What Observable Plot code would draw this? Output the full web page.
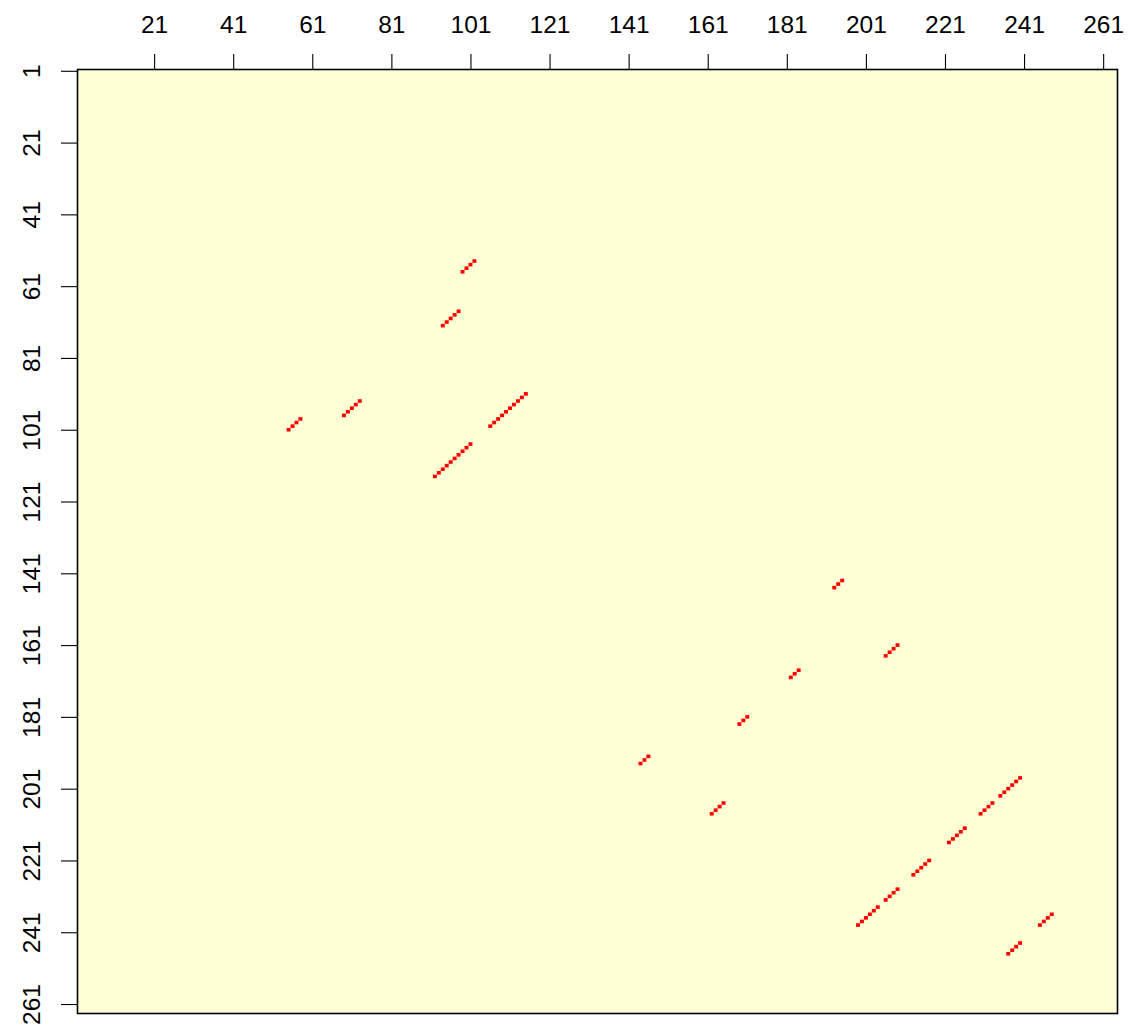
<!DOCTYPE html>
<html>
<head>
<meta charset="utf-8">
<script src="https://cdn.jsdelivr.net/npm/d3@7"></script>
<script src="https://cdn.jsdelivr.net/npm/@observablehq/plot@0.6"></script>
<style>
  html, body { margin: 0; padding: 0; background: #ffffff; }
  #chart svg { display: block; }
</style>
</head>
<body>
<div id="chart"></div>
<script>
// Paired positions (column index, row index)
const cols = [
  99, 100, 101, 102,
  94, 95, 96, 97, 98,
  55, 56, 57, 58,
  69, 70, 71, 72, 73,
  106, 107, 108, 109, 110, 111, 112, 113, 114, 115,
  92, 93, 94, 95, 96, 97, 98, 99, 100, 101,
  193, 194, 195,
  206, 207, 208, 209,
  182, 183, 184,
  169, 170, 171,
  144, 145, 146,
  162, 163, 164, 165,
  230, 231, 232, 233, 235, 236, 237, 238, 239, 240,
  222, 223, 224, 225, 226,
  213, 214, 215, 216, 217,
  199, 200, 201, 202, 203, 204, 206, 207, 208, 209,
  245, 246, 247, 248,
  237, 238, 239, 240
];
const rows = [
  57, 56, 55, 54,
  72, 71, 70, 69, 68,
  101, 100, 99, 98,
  97, 96, 95, 94, 93,
  100, 99, 98, 97, 96, 95, 94, 93, 92, 91,
  114, 113, 112, 111, 110, 109, 108, 107, 106, 105,
  145, 144, 143,
  164, 163, 162, 161,
  170, 169, 168,
  183, 182, 181,
  194, 193, 192,
  208, 207, 206, 205,
  208, 207, 206, 205, 203, 202, 201, 200, 199, 198,
  216, 215, 214, 213, 212,
  225, 224, 223, 222, 221,
  239, 238, 237, 236, 235, 234, 232, 231, 230, 229,
  239, 238, 237, 236,
  247, 246, 245, 244
];
const xTicks = [21, 41, 61, 81, 101, 121, 141, 161, 181, 201, 221, 241, 261];
const yTicks = [1, 21, 41, 61, 81, 101, 121, 141, 161, 181, 201, 221, 241, 261];

const cells = cols.map((c, i) => ({col: c, row: rows[i]}));

const chart = Plot.plot({
  width: 1129,
  height: 1029,
  marginLeft: 77,
  marginRight: 12,
  marginTop: 69,
  marginBottom: 16,
  style: {fontFamily: "'Liberation Sans', Arial, Helvetica, sans-serif", background: "#ffffff"},
  x: {domain: [1.5, 264.5], axis: null},
  y: {domain: [0.5, 263.5], reverse: true, axis: null},
  marks: [
    Plot.frame({fill: "#ffffd6", stroke: null}),
    Plot.rect(cells, {
      x1: d => d.col - 0.5, x2: d => d.col + 0.5,
      y1: d => d.row - 0.5, y2: d => d.row + 0.5,
      fill: "#ff0000", inset: 0
    }),
    Plot.frame({stroke: "#000000", strokeWidth: 1.6}),
    Plot.axisX(xTicks, {
      anchor: "top", tickSize: 16, tickPadding: 21, fontSize: 24.5,
      stroke: "#000", strokeWidth: 1.1, fill: "#000", tickFormat: d => String(d)
    }),
    Plot.axisY(yTicks, {
      anchor: "left", tickSize: 16, tickPadding: 22, tickRotate: -90, fontSize: 24.5,
      stroke: "#000", strokeWidth: 1.1, fill: "#000", tickFormat: d => String(d)
    })
  ]
});
document.getElementById("chart").appendChild(chart);
</script>
</body>
</html>
